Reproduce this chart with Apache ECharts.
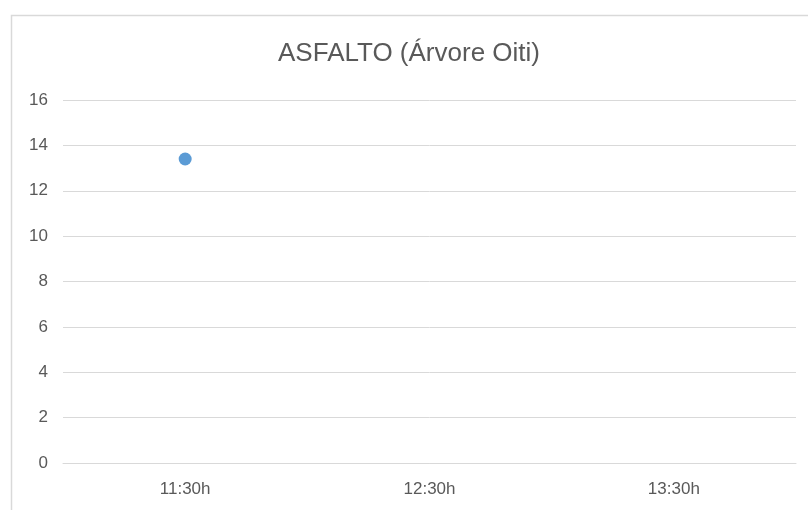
<!DOCTYPE html>
<html><head><meta charset="utf-8">
<script src="https://cdn.jsdelivr.net/npm/echarts@6/dist/echarts.min.js"></script>
<style>html,body{margin:0;padding:0;background:#fff}#c{width:808px;height:510px}</style>
</head><body><div id="c"></div>
<script>
var title = 'ASFALTO (Árvore Oiti)';
var categories = ['11:30h', '12:30h', '13:30h'];
var values = [13.4, null, null];
var yTicks = {min: 0, max: 16, interval: 2};

var chart = echarts.init(document.getElementById('c'));
chart.setOption({
  animation: false,
  backgroundColor: '#fff',
  title: {text: title, left: 278, top: 41, padding: 0,
    textStyle: {fontFamily: 'Liberation Sans', fontSize: 26, fontWeight: 'normal', color: '#595959'}},
  graphic: [{type: 'rect', left: 9, top: 13, shape: {width: 900, height: 600},
    style: {fill: 'none', stroke: '#d9d9d9', lineWidth: 1.5}}],
  grid: {left: 63, right: 12, top: 100, bottom: 47},
  xAxis: {type: 'category', data: categories,
    axisLine: {show: true, lineStyle: {color: '#d9d9d9'}}, axisTick: {show: false},
    axisLabel: {margin: 18, color: '#595959', fontSize: 17, fontFamily: 'Liberation Sans'}},
  yAxis: {type: 'value', min: yTicks.min, max: yTicks.max, interval: yTicks.interval,
    axisLine: {show: false}, axisTick: {show: false},
    splitLine: {lineStyle: {color: '#d9d9d9'}},
    axisLabel: {margin: 15, color: '#595959', fontSize: 17, fontFamily: 'Liberation Sans'}},
  series: [{type: 'line', data: values, symbol: 'circle', symbolSize: 13,
    lineStyle: {width: 0}, itemStyle: {color: '#5B9BD5'}}]
});
</script></body></html>
